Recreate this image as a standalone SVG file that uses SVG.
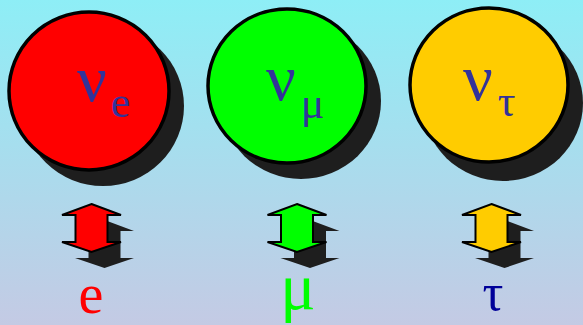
<svg xmlns="http://www.w3.org/2000/svg" width="583" height="325" viewBox="0 0 583 325">
<defs>
<linearGradient id="bg" x1="0" y1="0" x2="0" y2="1">
<stop offset="0" stop-color="#8EEEF6"/>
<stop offset="1" stop-color="#C4CAE4"/>
</linearGradient>
<path id="arr" d="M0,-24 L29.5,-13 L16,-13 L16,14 L29.5,14 L0,24 L-29.5,14 L-16,14 L-16,-13 L-29.5,-13 Z"/>
</defs>
<style>
.sh{fill:#1E1E1E}
.c{stroke:#000;stroke-width:3.5}
.a{stroke:#000;stroke-width:2;stroke-linejoin:miter}
.nu{font-family:"Liberation Serif","Times New Roman",serif;fill:#333399}
.lab{font-family:"Liberation Serif","Times New Roman",serif;text-anchor:middle}
</style>
<rect width="583" height="325" fill="url(#bg)"/>
<g id="nu_e">
<ellipse class="sh" cx="103" cy="106" rx="81" ry="80"/>
<ellipse class="c" cx="89" cy="91" rx="80" ry="79" fill="#FF0000"/>
<text class="nu" x="77" y="101" font-size="66">ν<tspan font-size="44" dx="4" dy="16">e</tspan></text>
</g>
<g id="nu_mu">
<ellipse class="sh" cx="301" cy="101" rx="80" ry="78"/>
<ellipse class="c" cx="287" cy="86" rx="79" ry="77" fill="#00FF00"/>
<text class="nu" x="266" y="100" font-size="66">ν<tspan font-size="44" dx="5" dy="18">μ</tspan></text>
</g>
<g id="nu_tau">
<ellipse class="sh" cx="503" cy="103" rx="80" ry="78"/>
<ellipse class="c" cx="489" cy="85" rx="79" ry="77" fill="#FFCC00"/>
<text class="nu" x="463" y="100" font-size="66">ν<tspan font-size="44" dx="5" dy="16">τ</tspan></text>
</g>
<g id="connectors">
<use href="#arr" class="sh" transform="translate(104.5,244)"/>
<use href="#arr" class="a" fill="#FF0000" transform="translate(91.5,228)"/>
<use href="#arr" class="sh" transform="translate(310,244)"/>
<use href="#arr" class="a" fill="#00FF00" transform="translate(297,228)"/>
<use href="#arr" class="sh" transform="translate(504.5,244)"/>
<use href="#arr" class="a" fill="#FFCC00" transform="translate(491.5,228)"/>
</g>
<g id="e"><text class="lab" x="91" y="313" font-size="56" fill="#FF0000">e</text></g>
<g id="mu"><text class="lab" x="298" y="309" font-size="66" fill="#00FF00">μ</text></g>
<g id="tau"><text class="lab" x="493" y="310" font-size="52" fill="#000099">τ</text></g>
</svg>
